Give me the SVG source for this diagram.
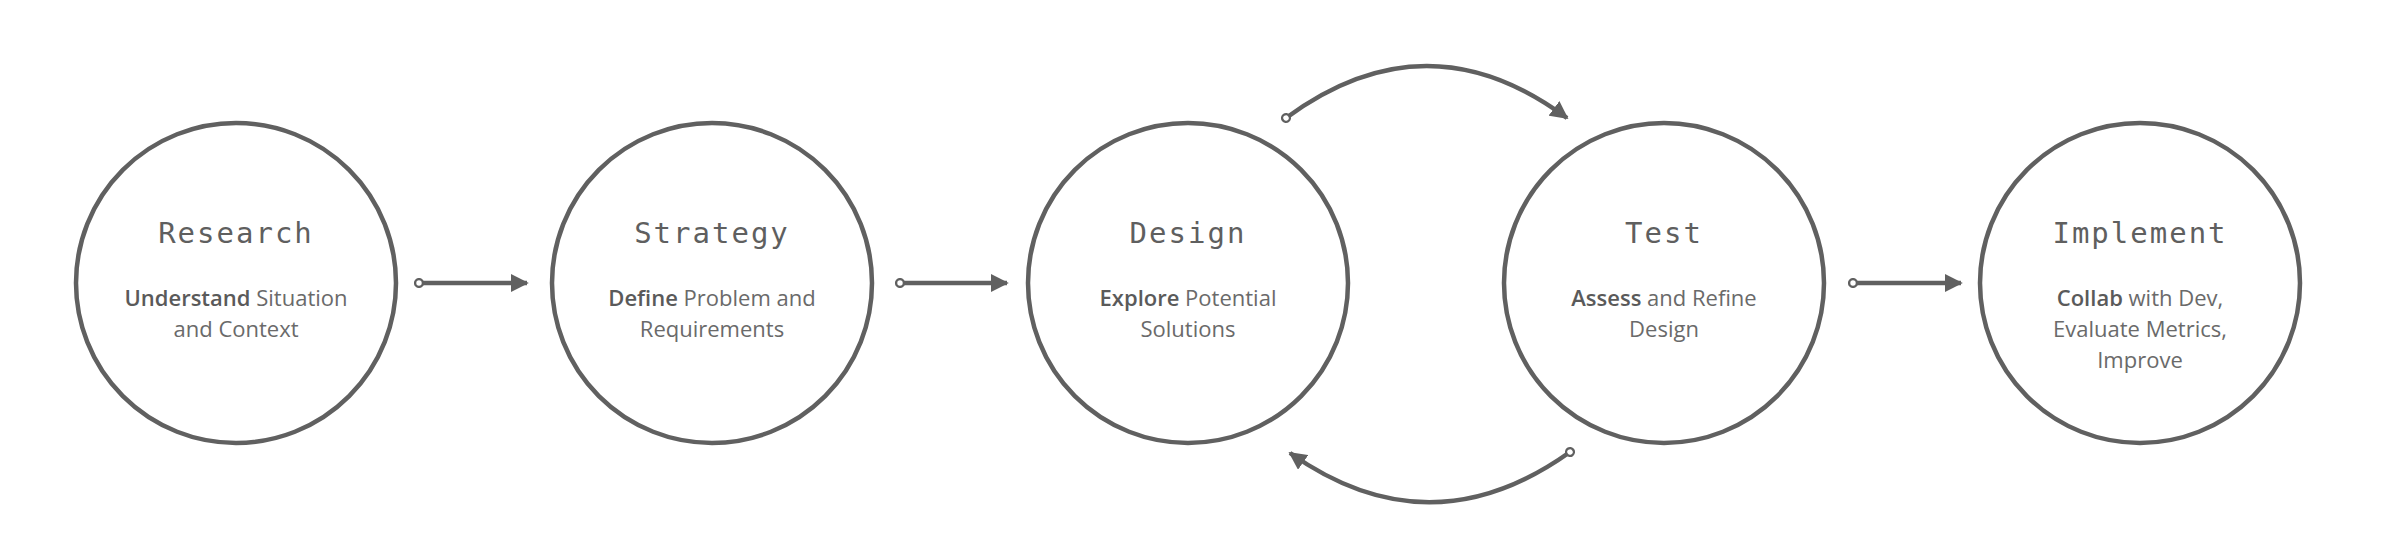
<svg xmlns="http://www.w3.org/2000/svg" width="2400" height="555" viewBox="0 0 2400 555">
<style>
.c{fill:#fff;stroke:#606060;stroke-width:4.5}
.t{font-family:"DejaVu Sans Mono","Liberation Mono",monospace;font-size:29px;fill:#5f5f5f;text-anchor:middle;letter-spacing:2px}
.b{font-family:"Open Sans","Noto Sans",sans-serif;font-size:22px;fill:#6a6a6a;text-anchor:middle}
.b tspan.k{font-weight:600;fill:#5a5a5a}
.l{fill:none;stroke:#606060;stroke-width:4.5}
</style>
<defs>
<marker id="ah" viewBox="0 0 10 10" refX="9" refY="5" markerWidth="4" markerHeight="4" orient="auto" markerUnits="strokeWidth"><path d="M0,0L10,5L0,10z" fill="#606060"/></marker>
<marker id="dot" viewBox="0 0 10 10" refX="5" refY="5" markerWidth="2.4" markerHeight="2.4" orient="auto" markerUnits="strokeWidth"><circle cx="5" cy="5" r="3.6" fill="#fff" stroke="#606060" stroke-width="2.2"/></marker>
</defs>
<g id="research"><circle class="c" cx="236" cy="283" r="160"/><text class="t" x="236" y="243">Research</text><text class="b" x="236" y="306"><tspan class="k">Understand</tspan> Situation</text><text class="b" x="236" y="337">and Context</text></g>
<g id="strategy"><circle class="c" cx="712" cy="283" r="160"/><text class="t" x="712" y="243">Strategy</text><text class="b" x="712" y="306"><tspan class="k">Define</tspan> Problem and</text><text class="b" x="712" y="337">Requirements</text></g>
<g id="design"><circle class="c" cx="1188" cy="283" r="160"/><text class="t" x="1188" y="243">Design</text><text class="b" x="1188" y="306"><tspan class="k">Explore</tspan> Potential</text><text class="b" x="1188" y="337">Solutions</text></g>
<g id="test"><circle class="c" cx="1664" cy="283" r="160"/><text class="t" x="1664" y="243">Test</text><text class="b" x="1664" y="306"><tspan class="k">Assess</tspan> and Refine</text><text class="b" x="1664" y="337">Design</text></g>
<g id="implement"><circle class="c" cx="2140" cy="283" r="160"/><text class="t" x="2140" y="243">Implement</text><text class="b" x="2140" y="306"><tspan class="k">Collab</tspan> with Dev,</text><text class="b" x="2140" y="337">Evaluate Metrics,</text><text class="b" x="2140" y="368">Improve</text></g>
<g id="connectors">
<path class="l" d="M419,283H527" marker-start="url(#dot)" marker-end="url(#ah)"/>
<path class="l" d="M900,283H1007" marker-start="url(#dot)" marker-end="url(#ah)"/>
<path class="l" d="M1853,283H1961" marker-start="url(#dot)" marker-end="url(#ah)"/>
<path class="l" d="M1286,118Q1427,14 1567,118" marker-start="url(#dot)" marker-end="url(#ah)"/>
<path class="l" d="M1570,452Q1430,552 1290,453" marker-start="url(#dot)" marker-end="url(#ah)"/>
</g>
</svg>
